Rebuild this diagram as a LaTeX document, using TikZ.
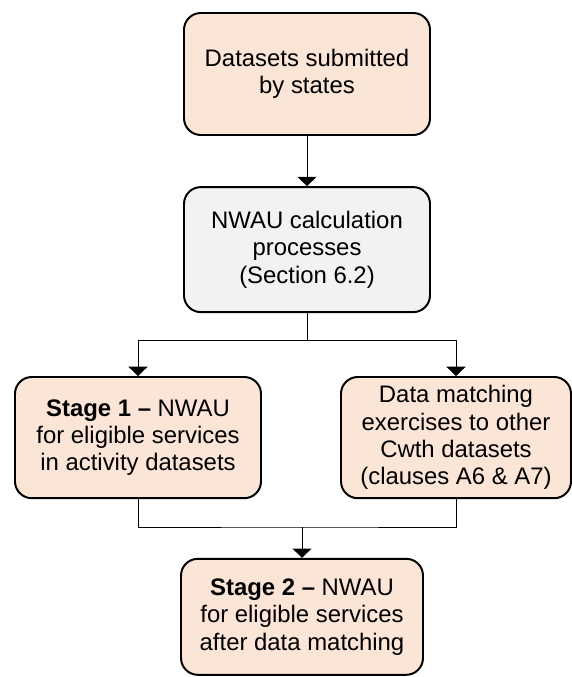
\documentclass[tikz,border=0pt]{standalone}
\usepackage{fontspec}
\setmainfont{Liberation Sans}
\usepackage{xcolor}
\usepackage{tikz}
\usetikzlibrary{arrows.meta,positioning,calc}
\definecolor{stagepeach}{HTML}{FBE5D6}
\definecolor{calcgrey}{HTML}{F2F2F2}

\begin{document}
\begin{tikzpicture}[x=1cm,y=1cm,
    stepbox/.style = {draw=black,line width=1.4pt,rounded corners=0.42cm,
                      fill=stagepeach,align=center,inner sep=0pt,
                      font=\fontsize{17}{19.5}\selectfont,
                      minimum width=6.15cm,minimum height=3.05cm},
    link/.style      = {line width=0.7pt},
    linkarrow/.style = {link,-{Triangle[width=13.5pt,length=6.6pt]}},
  ]
  \useasboundingbox (0,0) rectangle (14.275,-16.925);

  % Boxes
  \node[stepbox] (submitted) at (7.675,-1.85) {Datasets submitted\\by states};
  \node[stepbox,fill=calcgrey,minimum height=3.125cm] (nwau) at (7.675,-6.24)
       {NWAU calculation\\processes\\(Section 6.2)};
  \node[stepbox,minimum height=3.03cm] (stageone) at (3.45,-10.94)
       {\textbf{Stage 1 --} NWAU\\for eligible services\\in activity datasets};
  \node[stepbox,minimum height=3.03cm,minimum width=5.75cm] (matching) at (11.4,-10.94)
       {Data matching\\exercises to other\\Cwth datasets\\(clauses A6 \& A7)};
  \node[stepbox,minimum height=2.9cm,minimum width=6.05cm] (stagetwo) at (7.55,-15.42)
       {\textbf{Stage 2 --} NWAU\\for eligible services\\after data matching};

  % Fork below the calculation step
  \coordinate (fork) at (7.675,-8.5);
  \draw[linkarrow] (submitted) -- (nwau);
  \draw[link] (nwau) -- (fork);
  \draw[linkarrow] (fork) -| (stageone);
  \draw[linkarrow] (fork) -| (matching);

  % Join into the second stage
  \coordinate (join) at (7.55,-13.175);
  \draw[link] (stageone) |- (join) -| (matching);
  \draw[linkarrow] (join) -- (stagetwo);

\end{tikzpicture}
\end{document}
